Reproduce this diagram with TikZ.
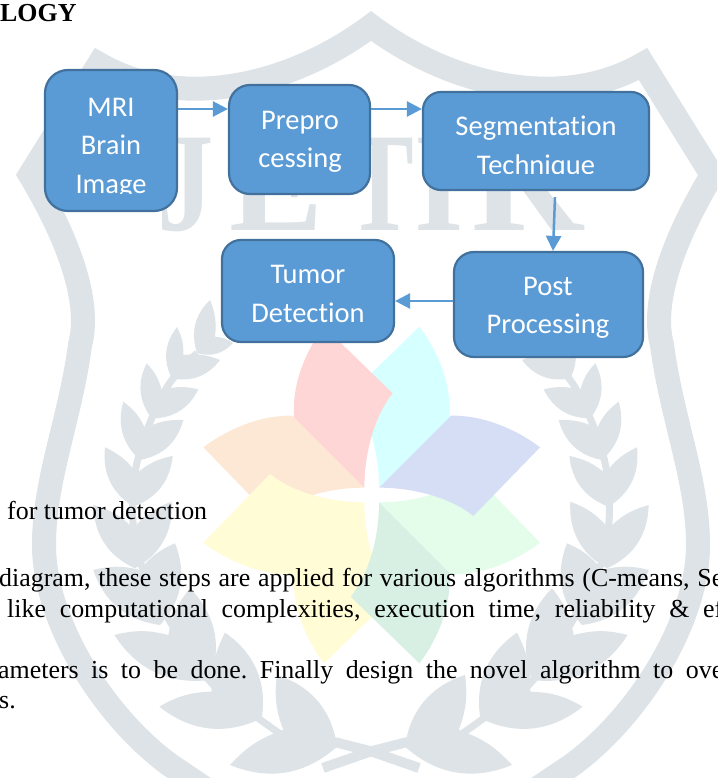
\documentclass[tikz,border=0pt]{standalone}
\usepackage{fontspec}
\setmainfont{Liberation Serif}
\newfontfamily\boxfont[Ligatures=NoCommon]{Carlito}
\usetikzlibrary{arrows.meta,calc}
\definecolor{wmgray}{HTML}{DDE3E7}
\definecolor{boxfill}{HTML}{5B9BD5}
\definecolor{boxline}{HTML}{41719C}
\definecolor{pRed}{HTML}{FFD6D6}
\definecolor{pCyan}{HTML}{D6FFFF}
\definecolor{pBlue}{HTML}{D6DEF6}
\definecolor{pGreen}{HTML}{E3FDEA}
\definecolor{pDark}{HTML}{D8F0E3}
\definecolor{pYellow}{HTML}{FFFCD6}
\definecolor{pOrange}{HTML}{FDE8D6}
\tikzset{
  flowbox/.style={draw=boxline,fill=boxfill,line width=2.2pt,inner sep=0pt},
  flowtext/.style={text=white,font=\boxfont\fontsize{28.5}{38.5}\selectfont,align=center,inner sep=0pt},
  flowarrow/.style={draw=boxfill,line width=2.5pt,-{Triangle[length=15pt,width=15pt]}},
  wmletter/.style={text=wmgray,font=\fontsize{141}{141}\selectfont\bfseries,inner sep=0pt,anchor=base},
  bodyline/.style={inner sep=0pt,anchor=base west,font=\fontsize{25.9}{30}\selectfont\frenchspacing},
}
\newcommand\tulip[4]{\fill[wmgray] #1 to[bend left=\sg*32] #2 to[bend left=\sg*14] #3 to[bend left=\sg*14] #4 to[bend left=\sg*32] cycle;}
\newcommand\wreath{%
  \tulip{(384,69)}{(276,39)}{(330,20)}{(345,-90)}
  \tulip{(460,145)}{(315,90)}{(425,75)}{(444,-9)}
  \tulip{(520,265)}{(380,178)}{(490,180)}{(535,100)}
  \tulip{(555,390)}{(425,270)}{(540,295)}{(605,215)}
  \tulip{(575,530)}{(457,378)}{(565,430)}{(660,352)}
  \tulip{(570,715)}{(460,515)}{(575,595)}{(695,525)}
  \tulip{(495,885)}{(450,640)}{(555,720)}{(695,720)}
  \tulip{(345,1050)}{(405,775)}{(470,915)}{(632,915)}
  \tulip{(190,1165)}{(300,908)}{(340,1085)}{(497,1130)}
  \tulip{(-36,1250)}{(144,1035)}{(125,1200)}{(285,1305)}
  \draw[wmgray,line width=7pt] plot[smooth] coordinates {(384,69)(458,148)(500,220)(545,330)(570,430)(577,560)(560,680)(510,790)(450,900)(340,1060)(200,1165)(130,1215)};
  \draw[wmgray,line width=10pt] (130,1215) -- (-36,1238) -- (-141,1265) -- (-282,1314);
}
\newcommand\petalV[3]{\begin{scope}[shift={(371.7,495)},x=#1*.3333pt,y=#2*.3333pt]
  \fill[#3] (22,22) -- (233,233) .. controls (240,330) and (200,430) .. (143,505) -- (-63,305) .. controls (-10,240) and (22,130) .. (22,22);
\end{scope}}
\newcommand\petalH[3]{\begin{scope}[shift={(371.7,495)},x=#1*.3333pt,y=#2*.3333pt]
  \fill[#3] (22,22) -- (238,238) .. controls (330,240) and (430,200) .. (505,143) -- (305,-63) .. controls (240,-10) and (130,22) .. (22,22);
\end{scope}}
\begin{document}
\begin{tikzpicture}[x=1pt,y=-1pt]
\useasboundingbox (0,0) rectangle (717,778);
\clip (0,0) rectangle (717,778);
\fill[white] (0,0) rectangle (717,778);
% shield
\draw[wmgray,line width=24pt,miter limit=10,line join=miter]
  (520,800) -- (572,765) .. controls (640,715) and (698,620) .. (698,545)
  .. controls (698,480) and (672,420) .. (662,345) .. controls (650,300) and (676,235) .. (712,175)
  -- (643,64) .. controls (560,112) and (450,85) .. (371,26)
  .. controls (292,85) and (182,112) .. (99,64) -- (30,175)
  .. controls (66,235) and (92,300) .. (80,345) .. controls (70,420) and (44,480) .. (44,545)
  .. controls (44,620) and (102,715) .. (170,765) -- (222,800);
% watermark letters
\node[wmletter,xscale=.8] (wmJ) at (186,230) {J};
\node[wmletter,xscale=1.0] (wmE) at (277,230) {E};
\node[wmletter,xscale=.72] (wmT) at (380,230) {T};
\node[wmletter,xscale=.9] (wmI) at (439,230) {I};
\node[wmletter,xscale=1.1] (wmR) at (527,230) {R};
% wreath
\begin{scope}[shift={(417,330)},x=.3333pt,y=-.3333pt]
  \def\sg{1}\wreath
\end{scope}
\begin{scope}[shift={(325,330)},x=-.3333pt,y=-.3333pt]
  \def\sg{-1}\wreath
\end{scope}
% flower
\petalH{-1}{1}{pOrange}
\petalH{-1}{-1}{pYellow}
\petalH{1}{-1}{pGreen}
\petalH{1}{1}{pBlue}
\petalV{1}{1}{pCyan}
\petalV{-1}{1}{pRed}
\petalV{-1}{-1}{pYellow}
\petalV{1}{-1}{pDark}
% body text
\node[bodyline,font=\fontsize{25.9}{30}\selectfont\bfseries] (head) at (0,22) {LOGY};
\node[bodyline] (cap) at (7,519) {for tumor detection};
\node[bodyline] (l1) at (-1,586) {\makebox[724pt][s]{diagram, these steps are applied for various algorithms (C-means, Se}};
\node[bodyline] (l2) at (7,617) {\makebox[716pt][s]{like computational complexities, execution time, reliability \& ef}};
\node[bodyline] (l3) at (-2,678) {\makebox[725pt][s]{ameters is to be done. Finally design the novel algorithm to ove}};
\node[bodyline] (l4) at (-1,708) {s.};
% boxes
\node[flowbox,rounded corners=23pt,minimum width=132pt,minimum height=141pt] (mri) at (111,140.5) {};
\node[flowbox,rounded corners=21pt,minimum width=141pt,minimum height=109pt] (pre) at (299.5,139.5) {};
\node[flowbox,rounded corners=18pt,minimum width=226pt,minimum height=98pt] (seg) at (536,141) {};
\node[flowbox,rounded corners=20pt,minimum width=189pt,minimum height=105pt] (post) at (548.5,304.5) {};
\node[flowbox,rounded corners=19pt,minimum width=172pt,minimum height=102pt] (tum) at (308,291) {};
\begin{scope}
  \clip (44,69) rectangle (178,193);
  \node[flowtext] (mriT) at (111,148) {MRI\\Brain\\Image};
\end{scope}
\node[flowtext] (preT) at (300,142) {Prepro\\cessing};
\begin{scope}
  \clip (422,91) rectangle (650,174);
  \node[flowtext] (segT) at (536,147.5) {Segmentation\\Technique};
\end{scope}
\node[flowtext] (postT) at (548,308) {Post\\Processing};
\node[flowtext] (tumT) at (308,294) {Tumor\\Detection};
% arrows
\draw[flowarrow] ([yshift=31.5pt]mri.east) -- ([yshift=30.5pt]pre.west);
\draw[flowarrow] ([yshift=30.5pt]pre.east) -- ([yshift=32pt]seg.west);
\draw[flowarrow] ([xshift=19pt,yshift=-6pt]seg.south) -- ([xshift=4.5pt]post.north);
\draw[flowarrow] ([yshift=3.5pt]post.west) -- ([yshift=-10pt]tum.east);
\end{tikzpicture}
\end{document}
